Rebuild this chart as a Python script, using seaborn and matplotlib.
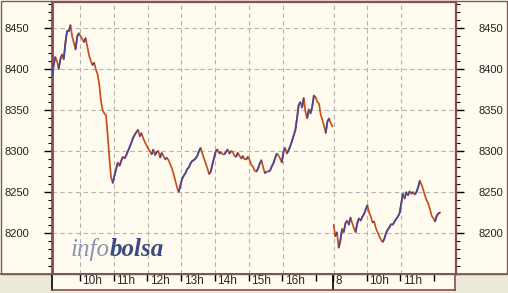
import numpy as np
import pandas as pd
import matplotlib
matplotlib.use("Agg")
import matplotlib.pyplot as plt
import matplotlib.transforms as mtrans
from matplotlib.collections import LineCollection
from matplotlib.patches import Rectangle
from matplotlib.ticker import MultipleLocator
import seaborn as sns

# ---------------- data ----------------
# Day 1: quotes every 3 minutes starting 9:10
day1_start_min = 10
day1_step_min = 3
day1_values = [
    8390, 8404, 8415, 8410, 8400, 8412, 8418, 8412, 8432, 8447,
    8446, 8454, 8440, 8432, 8424, 8440, 8444, 8440, 8437, 8433,
    8438, 8427, 8417, 8410, 8405, 8408, 8400, 8394, 8382, 8362,
    8350, 8346, 8344, 8320, 8292, 8268, 8261, 8270, 8278, 8286,
    8282, 8288, 8293, 8291, 8295, 8300, 8305, 8310, 8316, 8320,
    8323, 8326, 8318, 8322, 8316, 8311, 8307, 8303, 8300, 8296,
    8302, 8295, 8299, 8300, 8292, 8298, 8294, 8290, 8292, 8289,
    8284, 8279, 8272, 8264, 8256, 8250, 8258, 8266, 8270, 8273,
    8278, 8280, 8285, 8288, 8289, 8291, 8294, 8300, 8304, 8297,
    8291, 8285, 8279, 8272, 8275, 8284, 8292, 8300, 8302, 8297,
    8299, 8296, 8296, 8299, 8302, 8297, 8300, 8299, 8294, 8293,
    8298, 8294, 8291, 8294, 8290, 8290, 8293, 8289, 8283, 8281,
    8276, 8275, 8279, 8285, 8289, 8280, 8273, 8275, 8275, 8276,
    8281, 8285, 8291, 8297, 8295, 8291, 8286, 8299, 8304, 8297,
    8301, 8306, 8312, 8319, 8325, 8340, 8356, 8360, 8353, 8365,
    8348, 8340, 8351, 8346, 8354, 8368, 8366, 8360, 8358, 8345,
    8338, 8331, 8322, 8336, 8340, 8334, 8330,
]
# Day 2 ("8"): quotes every 3 minutes starting 9:00
day2_start_min = 0
day2_step_min = 3
day2_values = [
    8210, 8196, 8201, 8182, 8191, 8205, 8201, 8212, 8215, 8210,
    8219, 8212, 8206, 8201, 8212, 8218, 8215, 8220, 8223, 8229,
    8234, 8225, 8220, 8213, 8214, 8206, 8201, 8196, 8192, 8189,
    8193, 8200, 8204, 8207, 8211, 8210, 8214, 8217, 8220, 8224,
    8236, 8248, 8242, 8250, 8246, 8251, 8248, 8250, 8247, 8250,
    8256, 8264, 8259, 8253, 8246, 8240, 8236, 8229, 8221, 8218,
    8214, 8221, 8224, 8225,
]

# axis: continuous session hours (day 2 starts right after day 1 close, 17:30)
day2_offset = 17.5 - 9.0
tick_pos = [10, 11, 12, 13, 14, 15, 16, 17.5, 18.5, 19.5]
tick_labels = ["10h", "11h", "12h", "13h", "14h", "15h", "16h", "8", "10h", "11h"]
minor_tick_pos = [17, 20.5]
y_major = [8200, 8250, 8300, 8350, 8400, 8450]

t1 = 9 + (day1_start_min + day1_step_min * np.arange(len(day1_values))) / 60
t2 = 9 + (day2_start_min + day2_step_min * np.arange(len(day2_values))) / 60 + day2_offset
df = pd.concat([
    pd.DataFrame({"t": t1, "price": day1_values, "day": 1}),
    pd.DataFrame({"t": t2, "price": day2_values, "day": 2}),
])

# ---------------- styling ----------------
CREAM = "#fffbef"
GRAYBG = "#ece9d8"
MAROON = "#8c4a4a"
RED = "#c8501e"
BLUE = "#46469a"

sns.set_theme(style="white")
plt.rcParams["font.family"] = ["Liberation Sans", "DejaVu Sans"]

W, H = 508, 293
fig = plt.figure(figsize=(W / 100, H / 100), dpi=100, facecolor=CREAM)

def fx(px):
    return px / W

def fy(py):
    return 1 - py / H

# background areas
fig.add_artist(Rectangle((0, 0), fx(52), fy(274), transform=fig.transFigure,
                         facecolor=GRAYBG, edgecolor="none", zorder=0))
fig.add_artist(Rectangle((fx(456), 0), 1 - fx(456), fy(274), transform=fig.transFigure,
                         facecolor=GRAYBG, edgecolor="none", zorder=0))
fig.add_artist(Rectangle((0, 0), 1, fy(290), transform=fig.transFigure,
                         facecolor=GRAYBG, edgecolor="none", zorder=0))
fig.add_artist(plt.Line2D([0, 1], [fy(274), fy(274)], transform=fig.transFigure,
                          color=MAROON, lw=1.2, zorder=1))
fig.add_artist(Rectangle((0.001, fy(274)), 0.997, 1 - fy(274) - 0.002, transform=fig.transFigure,
                         facecolor="none", edgecolor="#7a5a5a", lw=1.0, zorder=1))

ax = fig.add_axes([fx(52), fy(274), fx(456) - fx(52), fy(2) - fy(274)])
ax.set_facecolor(CREAM)

# base line (red) through seaborn
sns.lineplot(data=df, x="t", y="price", units="day", estimator=None, sort=False,
             color=RED, lw=1.25, ax=ax, legend=False)
# up-moves in blue
segs = []
for d in (1, 2):
    sub = df[df.day == d]
    tv, pv = sub.t.values, sub.price.values
    for i in range(len(tv) - 1):
        if pv[i + 1] > pv[i]:
            segs.append([(tv[i], pv[i]), (tv[i + 1], pv[i + 1])])
ax.add_collection(LineCollection(segs, colors=BLUE, linewidths=1.25, zorder=3))

ax.set_xlim(9.17, 21.12)
ax.set_ylim(8150, 8482)
ax.set_xlabel("")
ax.set_ylabel("")

ax.set_xticks(tick_pos)
ax.set_xticklabels([])
ax.tick_params(axis="x", length=0, labelbottom=False)
ax.set_yticks(y_major)
ax.yaxis.set_minor_locator(MultipleLocator(10))
ax.tick_params(axis="y", which="major", left=True, right=True, labelleft=True,
               labelright=True, length=6, width=1, color="black", pad=10.5,
               labelsize=8, labelcolor="#222222", direction="out")
ax.tick_params(axis="y", which="minor", left=True, right=True, length=3, width=0.8,
               color="black", direction="out")
ax.grid(True, which="major", color="#b4b4b4", lw=0.8, ls=(0, (4, 3)))
for side in ["left", "right", "top", "bottom"]:
    ax.spines[side].set_color(MAROON)
ax.spines["left"].set_linewidth(2.0)
ax.spines["right"].set_linewidth(1.6)
ax.spines["top"].set_linewidth(1.6)
ax.spines["bottom"].set_linewidth(1.0)

# watermark
wm1 = ax.text(0.045, 0.065, "info", transform=ax.transAxes, fontsize=18,
              family=["Liberation Serif", "DejaVu Serif"], style="italic",
              color="#8c93b3", va="baseline", ha="left", zorder=1)
ax.annotate("bolsa", xy=(1, 0), xycoords=wm1, fontsize=18,
            family=["Liberation Serif", "DejaVu Serif"], style="italic",
            weight="bold", color="#3c4a82", va="bottom", ha="left", zorder=1)

# bottom strip with time labels
ax2 = fig.add_axes([fx(52), fy(290), fx(455) - fx(52), fy(274) - fy(290)])
ax2.set_facecolor(CREAM)
ax2.set_xlim(ax.get_xlim())
ax2.set_ylim(0, 1)
ax2.set_yticks([])
ax2.set_xticks(tick_pos)
ax2.set_xticklabels(tick_labels)
ax2.set_xticks(minor_tick_pos, minor=True)
ax2.tick_params(axis="x", which="both", top=True, bottom=False, direction="in",
                length=5, width=1, color="black", labelbottom=True, labeltop=False,
                labelsize=8.5, pad=-10.5)
ax2.axvline(17.5, color="black", lw=1.2)
for side in ["top", "bottom", "right"]:
    ax2.spines[side].set_color(MAROON)
    ax2.spines[side].set_linewidth(1.2)
ax2.spines["left"].set_color("black")
ax2.spines["left"].set_linewidth(1.2)
offset = mtrans.ScaledTranslation(2.5 / 100, 0, fig.dpi_scale_trans)
for lab in ax2.get_xticklabels():
    lab.set_horizontalalignment("left")
    lab.set_transform(lab.get_transform() + offset)

fig.savefig("out.png", dpi=100, facecolor=fig.get_facecolor())
